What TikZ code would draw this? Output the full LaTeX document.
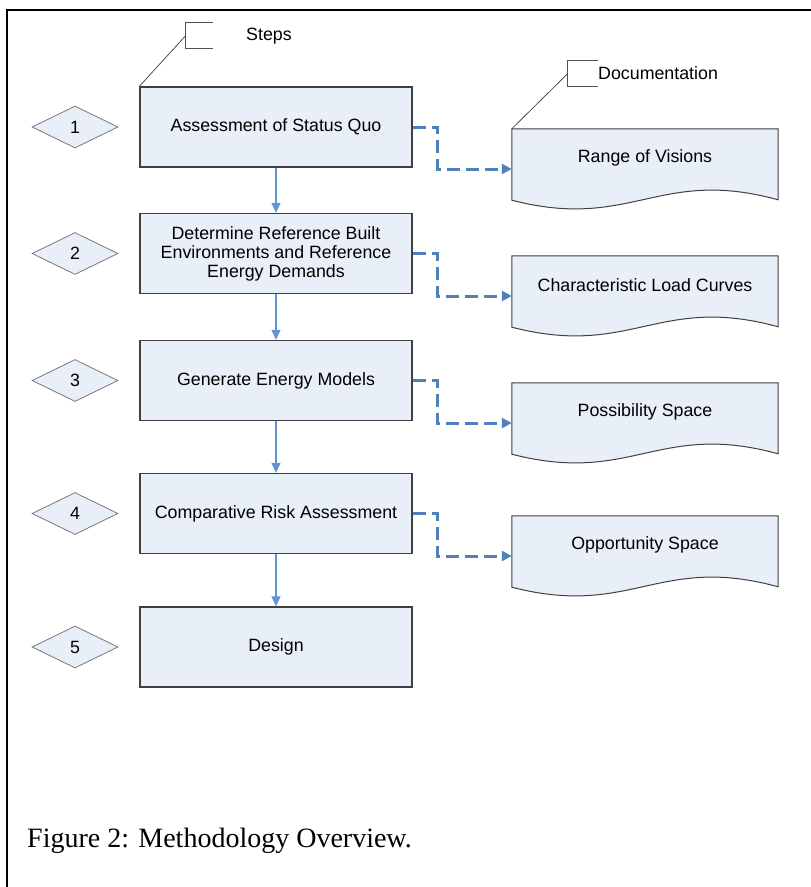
\documentclass[tikz,border=0pt]{standalone}
\usepackage{fontspec}
\setmainfont{Liberation Serif}
\setsansfont{Liberation Sans}
\usepackage{tikz}
\usetikzlibrary{shapes.geometric,arrows.meta,backgrounds}
\definecolor{boxfill}{RGB}{233,239,248}
\definecolor{boxline}{RGB}{64,64,64}
\definecolor{numline}{RGB}{120,120,120}
\definecolor{flowblue}{RGB}{99,148,210}
\definecolor{dashblue}{RGB}{79,129,189}
\definecolor{notegray}{RGB}{80,80,80}

\begin{document}
\begin{tikzpicture}[x=1pt,y=-1pt,
    every node/.style={font=\sffamily\fontsize{17.8}{19}\selectfont},
    stepbox/.style={draw=boxline,line width=1.3pt,fill=boxfill,minimum width=272pt,minimum height=80pt,align=center,inner sep=0pt},
    stepnum/.style={diamond,draw=numline,line width=0.8pt,fill=boxfill,minimum width=86pt,minimum height=42pt,inner sep=0pt},
    docbox/.style={minimum width=266pt,minimum height=58pt,inner sep=0pt},
    docline/.style={draw=boxline,line width=1pt,fill=boxfill},
    flow/.style={draw=flowblue,line width=1.2pt,-{Triangle[width=9pt,length=10pt]}},
    docflow/.style={draw=dashblue,line width=3pt,dash pattern=on 13pt off 6pt,-{Triangle[width=10pt,length=10pt]}},
    notemark/.style={minimum width=27pt,minimum height=25pt,inner sep=0pt},
    noteline/.style={draw=notegray,line width=0.8pt}]
    \useasboundingbox (0,0) rectangle (811,887);
    \draw[line width=2.4pt] (811,10) -- (7,10) -- (7,887);

    \node[stepbox] (s1) at (276,127) {Assessment of Status Quo};
    \node[stepbox] (s2) at (276,253.5) {Determine Reference Built\\Environments and Reference\\Energy Demands};
    \node[stepbox] (s3) at (276,380.5) {Generate Energy Models};
    \node[stepbox] (s4) at (276,513.5) {Comparative Risk Assessment};
    \node[stepbox] (s5) at (276,647) {Design};

    \node[stepnum] (n1) at (75,127) {1};
    \node[stepnum] (n2) at (75,253.5) {2};
    \node[stepnum] (n3) at (75,380.5) {3};
    \node[stepnum] (n4) at (75,513.5) {4};
    \node[stepnum] (n5) at (75,647) {5};

    \node[docbox] (d1) at (645,158) {Range of Visions};
    \node[docbox] (d2) at (645,285) {Characteristic Load Curves};
    \node[docbox] (d3) at (645,412) {Possibility Space};
    \node[docbox] (d4) at (645,545) {Opportunity Space};
    \begin{scope}[on background layer]
        \foreach \d in {d1,d2,d3,d4}
            \draw[docline] (\d.north west) -- (\d.north east) -- ++(0,71)
                .. controls +(-120,-33) and +(120,31) .. ([yshift=-13pt]\d.south west) -- cycle;
    \end{scope}

    \draw[flow] (s1) -- (s2);
    \draw[flow] (s2) -- (s3);
    \draw[flow] (s3) -- (s4);
    \draw[flow] (s4) -- (s5);

    \draw[docflow] (s1.east) -- ++(25,0) |- ([yshift=-11pt]d1.west);
    \draw[docflow] (s2.east) -- ++(25,0) |- ([yshift=-11pt]d2.west);
    \draw[docflow] (s3.east) -- ++(25,0) |- ([yshift=-11pt]d3.west);
    \draw[docflow] (s4.east) -- ++(25,0) |- ([yshift=-11pt]d4.west);

    \node[notemark] (stepsmark) at (199.5,35.5) {};
    \draw[noteline] (stepsmark.north east) -- (stepsmark.north west) -- (stepsmark.south west) -- (stepsmark.south east);
    \draw[noteline] (stepsmark.west) -- (s1.north west);
    \node (stepslabel) at (269,36) {Steps};

    \node[notemark,minimum width=30pt] (docsmark) at (583,73.5) {};
    \draw[noteline] (docsmark.north east) -- (docsmark.north west) -- (docsmark.south west) -- (docsmark.south east);
    \draw[noteline] (docsmark.west) -- (d1.north west);
    \node[anchor=west,inner sep=0pt] (docslabel) at (598,73) {Documentation};

    \node[anchor=base west,inner sep=0pt,font=\rmfamily\fontsize{28}{30}\selectfont] (caption) at (27,847) {Figure 2: Methodology Overview.};
\end{tikzpicture}
\end{document}
